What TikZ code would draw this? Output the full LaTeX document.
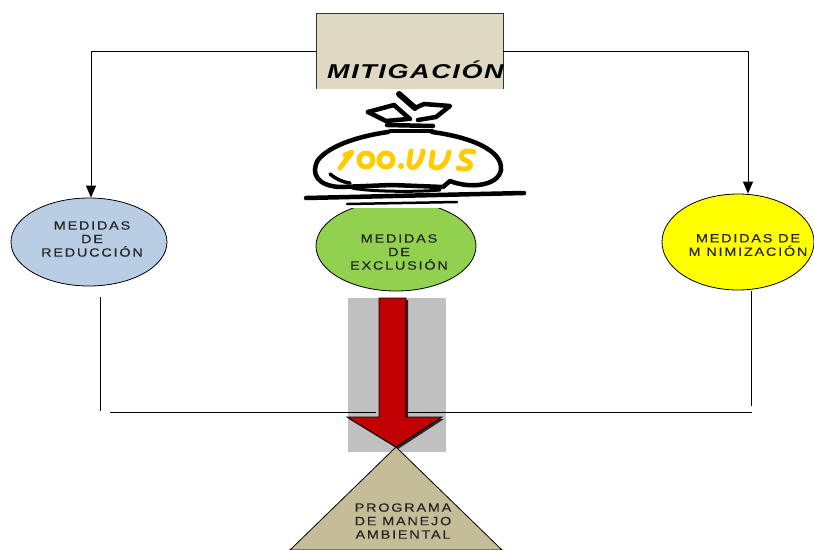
\documentclass[tikz,border=0pt]{standalone}
\usepackage{fontspec}
\usetikzlibrary{shapes.geometric,arrows.meta}
\newfontfamily\diagfont[FakeStretch=1.2,LetterSpace=15,FakeBold=0.35]{Liberation Sans}
\newfontfamily\titlefont[FakeStretch=1.35,LetterSpace=8]{Liberation Sans}
\definecolor{boxbeige}{HTML}{DDD9C3}
\definecolor{redblue}{HTML}{B9CDE5}
\definecolor{exgreen}{HTML}{92D050}
\definecolor{minyellow}{HTML}{FFFF00}
\definecolor{shaftgray}{HTML}{C0C0C0}
\definecolor{arrowred}{HTML}{C00000}
\definecolor{plantan}{HTML}{C4BD97}
\definecolor{bagyellow}{HTML}{FFCC00}
\begin{document}
\begin{tikzpicture}[x=1pt,y=-1pt,
  conn/.style={draw=black, line width=0.8pt},
  arr/.style={conn, -{Triangle[length=12pt,width=10pt]}},
  ell/.style={ellipse, draw=black, line width=0.8pt, inner sep=0pt},
  lbl/.style={font=\diagfont\fontsize{12}{13.5}\selectfont, align=center, text=black!85},
  ink/.style={draw=black, line width=4.5pt, line cap=round, line join=round},
  gold/.style={draw=bagyellow, line width=5pt, line cap=round, line join=round},
]
\useasboundingbox (0,0) rectangle (814,549);

% title box
\node[draw=black!80, fill=boxbeige, line width=0.8pt, minimum width=187pt, minimum height=76pt, inner sep=0pt] (mit) at (409.5,51) {};

% the three groups of measures
\node[ell, fill=redblue, minimum width=156pt, minimum height=88pt] (red) at (89,242) {};
\node[lbl] (redtxt) at (92,239) {MEDIDAS\\DE\\REDUCCIÓN};
\node[ell, fill=exgreen, minimum width=160pt, minimum height=90pt] (exc) at (396,246) {};
\node[lbl] (exctxt) at (399,252) {MEDIDAS\\DE\\EXCLUSIÓN};
\node[ell, fill=minyellow, minimum width=152pt, minimum height=96pt] (min) at (738,242) {};
\node[lbl] (mintxt) at (748,245) {MEDIDAS DE\\M NIMIZACIÓN};

% connectors from the title box
\draw[arr] (mit.west) -| ([xshift=2pt]red.north);
\draw[arr] (mit.east) -| ([xshift=10pt]min.north);

% money bag picture on its white ground
\fill[white] (303,89) rectangle (528,208);
\node[font=\titlefont\bfseries\itshape\fontsize{20}{22}\selectfont, anchor=base west, inner sep=0pt] (mitlbl) at (327,78) {MITIGACIÓN};
% bag body
\draw[ink, fill=white] (388,132) .. controls (360,136) and (330,145) .. (318,160)
   .. controls (310,174) and (318,186) .. (340,187)
   -- (392,185) -- (443,187) -- (450,181)
   .. controls (470,189) and (498,186) .. (501,170)
   .. controls (503,150) and (470,137) .. (432,132);
\draw[ink, line width=3pt] (352,188) .. controls (370,192) and (420,192) .. (440,190);
\draw[ink, line width=3.5pt] (330,174) .. controls (336,179) and (342,182) .. (350,183);
% knot
\fill[white] (368,112) -- (398,94) -- (450,106) -- (433,128) -- (387,126) -- cycle;
\draw[ink, line width=6pt] (399,94) -- (415,108);
\draw[ink] (368,112) -- (394,105);
\draw[ink] (368,112) -- (386,121) -- (408,119);
\draw[ink] (394,105) -- (410,119);
\draw[ink] (424,104) -- (450,106) -- (436,117) -- (418,120);
\draw[ink] (415,108) -- (424,104);
\draw[ink] (387,125) -- (433,126);
\draw[ink] (390,131) -- (432,131);
% base strokes
\draw[ink] (306,198) -- (524,193);
\draw[ink, line width=2.5pt] (347,204) -- (457,202);
% yellow marking on the bag
\draw[gold] (340,168) -- (352,152) -- (345,155);
\draw[gold] (366,160) ellipse [x radius=7, y radius=7];
\draw[gold] (386,160) ellipse [x radius=7, y radius=7];
\fill[bagyellow] (401,166) circle [radius=3];
\draw[gold] (411,151) -- (409,164) .. controls (410,170) and (420,170) .. (423,151);
\draw[gold] (433,152) -- (431,165) .. controls (434,170) and (446,170) .. (449,152);
\draw[gold] (474,152) .. controls (462,148) and (457,157) .. (465,160)
   .. controls (474,163) and (472,172) .. (458,168);

% shaft background
\fill[shaftgray] (348,298) rectangle (446,452);

% lines gathering the three groups
\coordinate (lfoot) at (100,411);
\coordinate (rfoot) at (751,406);
\coordinate (hl1) at (110,412);
\coordinate (hl2) at (376,412);
\coordinate (hr1) at (407,412);
\coordinate (hr2) at (752,412);
\draw[conn] ([xshift=11pt,yshift=-11pt]red.south) -- (lfoot);
\draw[conn] ([xshift=13pt,yshift=-1pt]min.south) -- (rfoot);
\draw[conn] (hl1) -- (hl2);
\draw[conn] (hr1) -- (hr2);

% red arrow down to the programme
\fill[black!85] (381,300) -- (408,300) -- (408,419) -- (444,419) -- (398,449) -- (349,419) -- (381,419) -- cycle;
\draw[fill=arrowred, draw=black, line width=0.9pt, line join=miter]
  (379,298) -- (406,298) -- (406,417) -- (442,417) -- (396,447) -- (347,417) -- (379,417) -- cycle;

% programme triangle
\draw[fill=plantan, draw=black, line width=0.8pt] (396,447) -- (502,550) -- (290,550) -- cycle;
\node[lbl] (pma) at (403,521) {PROGRAMA\\DE MANEJO\\AMBIENTAL};
\end{tikzpicture}
\end{document}
